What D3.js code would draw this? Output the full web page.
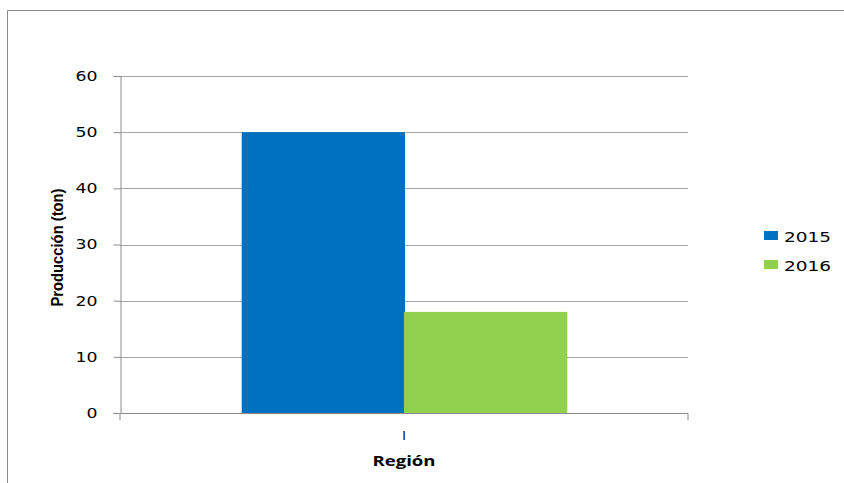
<!DOCTYPE html>
<html>
<head>
<meta charset="utf-8">
<script src="https://cdn.jsdelivr.net/npm/d3@7"></script>
<style>
  html, body { margin: 0; padding: 0; background: #fff; }
  svg { display: block; }
</style>
</head>
<body>
<svg id="chart" width="844" height="483"></svg>
<script>
// Production by region, grouped by year
const categories = ["I"];
const seriesNames = ["2015", "2016"];
const values2015 = [50];
const values2016 = [18];
const yTicks = [0, 10, 20, 30, 40, 50, 60];
const colors = ["#0070C0", "#92D050"];

const svg = d3.select("#chart");
const W = 844, H = 483;
const margin = { left: 120, right: 156, top: 76, bottom: 70 };
const plotW = W - margin.left - margin.right;
const plotH = H - margin.top - margin.bottom;

// Chart frame
svg.append("path")
  .attr("d", `M7.5,${H} V10.5 H${W}`)
  .attr("fill", "none")
  .attr("stroke", "#8c8c8c")
  .attr("stroke-width", 1);

const g = svg.append("g").attr("transform", `translate(${margin.left},${margin.top})`);

const x0 = d3.scaleBand().domain(categories).range([0, plotW]).paddingInner(0).paddingOuter(0);
const y = d3.scaleLinear().domain([0, 60]).range([plotH, 0]);

// Cluster occupies 2 bars + 150% gap width
const clusterFrac = 2 / 3.5;
const x1 = d3.scaleBand().domain(seriesNames)
  .range([x0.bandwidth() * (1 - clusterFrac) / 2, x0.bandwidth() * (1 + clusterFrac) / 2]);

// Gridlines
g.selectAll("line.grid").data(yTicks.filter(t => t > 0)).enter().append("line")
  .attr("x1", 0).attr("x2", plotW)
  .attr("y1", d => Math.round(y(d)) + 0.5).attr("y2", d => Math.round(y(d)) + 0.5)
  .attr("stroke", "#a6a6a6").attr("stroke-width", 1);

// Bars
const rows = categories.map((c, i) => ({ cat: c, vals: [values2015[i], values2016[i]] }));
const groups = g.selectAll("g.cat").data(rows).enter().append("g")
  .attr("transform", d => `translate(${x0(d.cat)},0)`);
groups.selectAll("rect").data(d => d.vals.map((v, j) => ({ key: seriesNames[j], v, j })))
  .enter().append("rect")
  .attr("x", d => x1(d.key))
  .attr("width", x1.bandwidth() + 1)
  .attr("y", d => y(d.v))
  .attr("height", d => plotH - y(d.v))
  .attr("fill", d => colors[d.j]);

// Y axis
const yAxis = g.append("g").attr("transform", "translate(0.5,0)")
  .call(d3.axisLeft(y).tickValues(yTicks).tickSize(7).tickPadding(16).tickFormat(d3.format("d")));
yAxis.select(".domain").attr("stroke", "#8c8c8c");
yAxis.selectAll(".tick line").attr("stroke", "#8c8c8c");
yAxis.selectAll(".tick text")
  .attr("font-family", "'DejaVu Sans', sans-serif")
  .attr("font-size", 14).attr("fill", "#000")
  .attr("textLength", d => String(d).length * 11)
  .attr("lengthAdjust", "spacingAndGlyphs");

// X axis
const xAxis = g.append("g").attr("transform", `translate(0,${plotH + 0.5})`)
  .call(d3.axisBottom(x0).tickSize(0).tickPadding(17));
xAxis.select(".domain").attr("stroke", "#8c8c8c").attr("d", `M0,7V0H${plotW}V7`);
xAxis.selectAll(".tick text")
  .attr("font-family", "'Liberation Sans', Arial, sans-serif")
  .attr("font-size", 13).attr("fill", "#000");

// Axis titles
svg.append("text")
  .attr("transform", `translate(63,${margin.top + plotH / 2 + 3}) rotate(-90)`)
  .attr("text-anchor", "middle")
  .attr("font-family", "'Liberation Sans', sans-serif")
  .attr("font-weight", "bold").attr("font-size", 17)
  .attr("textLength", 118).attr("lengthAdjust", "spacingAndGlyphs")
  .text("Producción (ton)");

svg.append("text")
  .attr("x", margin.left + plotW / 2).attr("y", 466)
  .attr("text-anchor", "middle")
  .attr("font-family", "'Open Sans', sans-serif")
  .attr("font-weight", "bold").attr("font-size", 15)
  .attr("textLength", 63).attr("lengthAdjust", "spacingAndGlyphs")
  .text("Región");

// Legend
const legend = svg.append("g").attr("transform", "translate(764,231)");
seriesNames.forEach((s, i) => {
  const row = legend.append("g").attr("transform", `translate(0,${i * 29})`);
  row.append("rect").attr("width", 14).attr("height", 9).attr("fill", colors[i]);
  row.append("text").attr("x", 20).attr("y", 10.5)
    .attr("font-family", "'DejaVu Sans', sans-serif")
    .attr("font-size", 14.5).attr("fill", "#000")
    .attr("textLength", 47).attr("lengthAdjust", "spacingAndGlyphs")
    .text(s);
});
</script>
</body>
</html>
